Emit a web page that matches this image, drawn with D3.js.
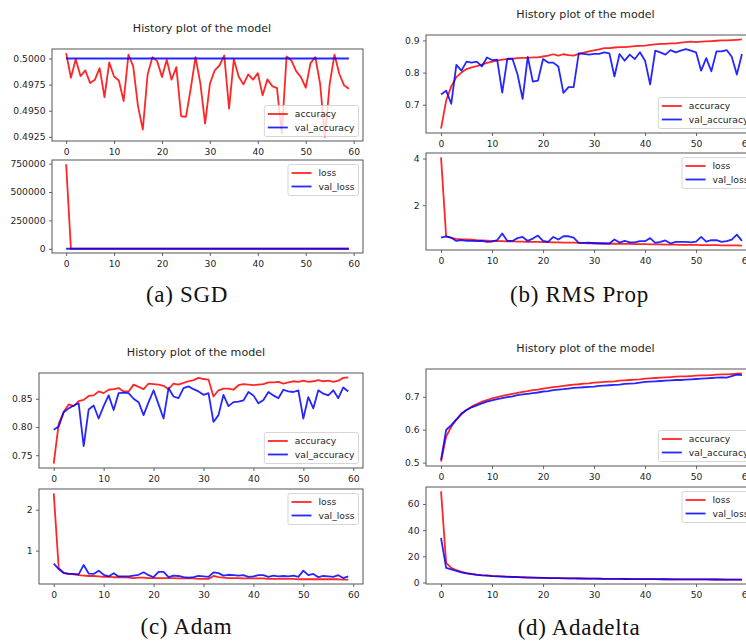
<!DOCTYPE html>
<html>
<head>
<meta charset="utf-8">
<script src="https://cdn.jsdelivr.net/npm/d3@7"></script>
<style>
  html, body { margin: 0; padding: 0; background: #fff; }
  svg { display: block; }
</style>
</head>
<body>
<svg id="chart" width="746" height="644"></svg>
<script>
const WIDTH = 746;
const HEIGHT = 644;
const COLOR_TRAIN = '#ff0000';
const COLOR_VAL = '#0000ff';
const COLOR_TEXT = '#262626';
const COLOR_SPINE = '#555555';
const FONT = "'DejaVu Sans', sans-serif";
const TICK_FONT = 9.2;
const LINE_W = 1.8;

// ---- data ----
const title = 'History plot of the model';
const captions = ['(a) SGD', '(b) RMS Prop', '(c) Adam', '(d) Adadelta'];
const accNames = ['accuracy', 'val_accuracy'];
const lossNames = ['loss', 'val_loss'];
const epochTicks = [0, 10, 20, 30, 40, 50, 60];

const sgdAcc = [
  0.50051, 0.49816, 0.49994, 0.49832, 0.49886, 0.49765, 0.49797, 0.49908, 0.49631, 0.49962,
  0.49828, 0.49790, 0.49593, 0.50038, 0.49924, 0.49542, 0.49320, 0.49847, 0.50013, 0.49975,
  0.49822, 0.49987, 0.49797, 0.49917, 0.49447, 0.49441, 0.49711, 0.50013, 0.49765, 0.49377,
  0.49758, 0.49886, 0.49933, 0.50029, 0.49520, 0.49994, 0.49828, 0.49752, 0.49847, 0.49797,
  0.49860, 0.49647, 0.49800, 0.49736, 0.49717, 0.49282, 0.50019, 0.49981, 0.49879, 0.49822,
  0.49720, 0.49956, 0.50013, 0.49758, 0.49250, 0.49758, 0.50038, 0.49854, 0.49743, 0.49711];
const sgdValAcc = [
  0.5, 0.5, 0.5, 0.5, 0.5, 0.5, 0.5, 0.5, 0.5, 0.5,
  0.5, 0.5, 0.5, 0.5, 0.5, 0.5, 0.5, 0.5, 0.5, 0.5,
  0.5, 0.5, 0.5, 0.5, 0.5, 0.5, 0.5, 0.5, 0.5, 0.5,
  0.5, 0.5, 0.5, 0.5, 0.5, 0.5, 0.5, 0.5, 0.5, 0.5,
  0.5, 0.5, 0.5, 0.5, 0.5, 0.5, 0.5, 0.5, 0.5, 0.5,
  0.5, 0.5, 0.5, 0.5, 0.5, 0.5, 0.5, 0.5, 0.5, 0.5];
const sgdLoss = [
  745000, 0.6935, 0.6932, 0.6932, 0.6932, 0.6932, 0.6932, 0.6932, 0.6932, 0.6932,
  0.6932, 0.6932, 0.6932, 0.6932, 0.6932, 0.6932, 0.6932, 0.6932, 0.6932, 0.6932,
  0.6932, 0.6932, 0.6932, 0.6932, 0.6932, 0.6932, 0.6932, 0.6932, 0.6932, 0.6932,
  0.6932, 0.6932, 0.6932, 0.6932, 0.6932, 0.6932, 0.6932, 0.6932, 0.6932, 0.6932,
  0.6932, 0.6932, 0.6932, 0.6932, 0.6932, 0.6932, 0.6932, 0.6932, 0.6932, 0.6932,
  0.6932, 0.6932, 0.6932, 0.6932, 0.6932, 0.6932, 0.6932, 0.6932, 0.6932, 0.6932];
const sgdValLoss = [
  0.6931, 0.6931, 0.6931, 0.6931, 0.6931, 0.6931, 0.6931, 0.6931, 0.6931, 0.6931,
  0.6931, 0.6931, 0.6931, 0.6931, 0.6931, 0.6931, 0.6931, 0.6931, 0.6931, 0.6931,
  0.6931, 0.6931, 0.6931, 0.6931, 0.6931, 0.6931, 0.6931, 0.6931, 0.6931, 0.6931,
  0.6931, 0.6931, 0.6931, 0.6931, 0.6931, 0.6931, 0.6931, 0.6931, 0.6931, 0.6931,
  0.6931, 0.6931, 0.6931, 0.6931, 0.6931, 0.6931, 0.6931, 0.6931, 0.6931, 0.6931,
  0.6931, 0.6931, 0.6931, 0.6931, 0.6931, 0.6931, 0.6931, 0.6931, 0.6931, 0.6931];

const rmsAcc = [
  0.626, 0.713, 0.757, 0.786, 0.800, 0.811, 0.816, 0.820, 0.825, 0.830,
  0.834, 0.837, 0.840, 0.842, 0.843, 0.845, 0.846, 0.846, 0.847, 0.847,
  0.850, 0.853, 0.857, 0.853, 0.857, 0.854, 0.853, 0.858, 0.862, 0.866,
  0.869, 0.872, 0.876, 0.876, 0.878, 0.879, 0.879, 0.881, 0.882, 0.883,
  0.884, 0.886, 0.888, 0.889, 0.889, 0.891, 0.891, 0.893, 0.895, 0.896,
  0.895, 0.896, 0.897, 0.898, 0.899, 0.900, 0.900, 0.901, 0.902, 0.903];
const rmsValAcc = [
  0.732, 0.744, 0.703, 0.824, 0.806, 0.834, 0.831, 0.834, 0.819, 0.847,
  0.839, 0.840, 0.738, 0.843, 0.843, 0.794, 0.718, 0.849, 0.772, 0.775,
  0.842, 0.831, 0.831, 0.819, 0.737, 0.755, 0.755, 0.860, 0.858, 0.856,
  0.858, 0.858, 0.863, 0.860, 0.788, 0.858, 0.837, 0.856, 0.842, 0.863,
  0.837, 0.763, 0.868, 0.863, 0.856, 0.870, 0.863, 0.868, 0.873, 0.868,
  0.863, 0.806, 0.845, 0.804, 0.866, 0.866, 0.870, 0.849, 0.794, 0.858];
const rmsLoss = [
  4.05, 0.66, 0.60, 0.56, 0.54, 0.54, 0.52, 0.50, 0.49, 0.48,
  0.47, 0.46, 0.46, 0.45, 0.45, 0.44, 0.44, 0.43, 0.43, 0.43,
  0.42, 0.42, 0.41, 0.41, 0.40, 0.40, 0.40, 0.39, 0.38, 0.37,
  0.37, 0.36, 0.36, 0.35, 0.35, 0.34, 0.34, 0.34, 0.33, 0.33,
  0.33, 0.32, 0.32, 0.32, 0.31, 0.31, 0.31, 0.30, 0.30, 0.30,
  0.30, 0.29, 0.29, 0.29, 0.29, 0.28, 0.28, 0.28, 0.28, 0.27];
const rmsValLoss = [
  0.61, 0.67, 0.61, 0.47, 0.50, 0.47, 0.47, 0.46, 0.47, 0.43,
  0.44, 0.50, 0.79, 0.47, 0.47, 0.59, 0.64, 0.47, 0.57, 0.70,
  0.47, 0.43, 0.64, 0.53, 0.67, 0.67, 0.61, 0.39, 0.39, 0.40,
  0.37, 0.37, 0.36, 0.36, 0.53, 0.40, 0.47, 0.41, 0.41, 0.46,
  0.46, 0.59, 0.39, 0.43, 0.49, 0.36, 0.43, 0.43, 0.43, 0.41,
  0.44, 0.64, 0.44, 0.50, 0.50, 0.43, 0.46, 0.53, 0.74, 0.47];

const adamAcc = [
  0.735, 0.806, 0.827, 0.840, 0.837, 0.846, 0.848, 0.855, 0.856, 0.863,
  0.860, 0.866, 0.867, 0.869, 0.863, 0.863, 0.875, 0.871, 0.867, 0.877,
  0.876, 0.875, 0.873, 0.867, 0.877, 0.875, 0.878, 0.881, 0.883, 0.887,
  0.885, 0.884, 0.854, 0.865, 0.868, 0.868, 0.866, 0.874, 0.876, 0.875,
  0.874, 0.875, 0.876, 0.879, 0.879, 0.880, 0.877, 0.879, 0.881, 0.880,
  0.882, 0.880, 0.881, 0.883, 0.881, 0.882, 0.880, 0.882, 0.887, 0.888];
const adamValAcc = [
  0.795, 0.801, 0.826, 0.833, 0.838, 0.842, 0.766, 0.831, 0.838, 0.815,
  0.837, 0.856, 0.830, 0.860, 0.861, 0.860, 0.850, 0.844, 0.821, 0.844,
  0.865, 0.840, 0.815, 0.869, 0.854, 0.851, 0.869, 0.872, 0.867, 0.863,
  0.857, 0.860, 0.809, 0.821, 0.857, 0.837, 0.844, 0.845, 0.847, 0.862,
  0.856, 0.842, 0.848, 0.862, 0.856, 0.851, 0.866, 0.863, 0.862, 0.865,
  0.815, 0.853, 0.833, 0.865, 0.859, 0.856, 0.865, 0.851, 0.870, 0.863];
const adamLoss = [
  2.40, 0.57, 0.46, 0.43, 0.42, 0.40, 0.39, 0.38, 0.38, 0.37,
  0.36, 0.36, 0.35, 0.35, 0.35, 0.34, 0.33, 0.34, 0.34, 0.33,
  0.33, 0.33, 0.33, 0.33, 0.33, 0.32, 0.32, 0.32, 0.32, 0.31,
  0.31, 0.31, 0.38, 0.35, 0.34, 0.33, 0.33, 0.33, 0.32, 0.32,
  0.32, 0.32, 0.32, 0.31, 0.31, 0.31, 0.31, 0.31, 0.31, 0.30,
  0.30, 0.30, 0.30, 0.30, 0.30, 0.30, 0.30, 0.30, 0.29, 0.29];
const adamValLoss = [
  0.68, 0.55, 0.45, 0.43, 0.43, 0.42, 0.65, 0.44, 0.43, 0.51,
  0.41, 0.37, 0.45, 0.37, 0.37, 0.37, 0.39, 0.41, 0.47, 0.40,
  0.35, 0.48, 0.48, 0.35, 0.39, 0.38, 0.35, 0.34, 0.35, 0.38,
  0.37, 0.36, 0.47, 0.45, 0.39, 0.41, 0.40, 0.39, 0.40, 0.36,
  0.37, 0.40, 0.40, 0.36, 0.39, 0.37, 0.38, 0.37, 0.39, 0.36,
  0.51, 0.40, 0.43, 0.35, 0.38, 0.37, 0.36, 0.40, 0.33, 0.37];

const adadeltaAcc = [
  0.503, 0.579, 0.609, 0.630, 0.647, 0.660, 0.670, 0.678, 0.685, 0.690,
  0.695, 0.699, 0.703, 0.706, 0.709, 0.712, 0.715, 0.717, 0.720, 0.722,
  0.725, 0.727, 0.729, 0.731, 0.733, 0.735, 0.737, 0.738, 0.740, 0.741,
  0.743, 0.744, 0.745, 0.746, 0.747, 0.749, 0.750, 0.751, 0.752, 0.753,
  0.755, 0.756, 0.757, 0.758, 0.759, 0.760, 0.761, 0.762, 0.762, 0.763,
  0.764, 0.765, 0.765, 0.766, 0.767, 0.768, 0.768, 0.769, 0.770, 0.771];
const adadeltaValAcc = [
  0.508, 0.599, 0.614, 0.631, 0.649, 0.660, 0.668, 0.674, 0.680, 0.685,
  0.689, 0.693, 0.696, 0.699, 0.701, 0.705, 0.707, 0.709, 0.711, 0.713,
  0.716, 0.717, 0.720, 0.722, 0.723, 0.725, 0.727, 0.728, 0.729, 0.730,
  0.731, 0.733, 0.734, 0.735, 0.736, 0.737, 0.739, 0.740, 0.741, 0.743,
  0.745, 0.746, 0.747, 0.748, 0.749, 0.750, 0.751, 0.751, 0.752, 0.753,
  0.754, 0.755, 0.756, 0.757, 0.758, 0.759, 0.758, 0.763, 0.767, 0.766];
const adadeltaLoss = [
  69.6, 15.0, 11.2, 9.4, 8.1, 7.2, 6.6, 6.1, 5.7, 5.4,
  5.1, 4.9, 4.7, 4.5, 4.3, 4.2, 4.0, 3.9, 3.8, 3.7,
  3.6, 3.5, 3.4, 3.35, 3.3, 3.2, 3.15, 3.1, 3.05, 3.0,
  2.95, 2.9, 2.85, 2.8, 2.78, 2.75, 2.7, 2.68, 2.65, 2.62,
  2.6, 2.57, 2.55, 2.52, 2.5, 2.48, 2.46, 2.44, 2.42, 2.4,
  2.38, 2.36, 2.35, 2.33, 2.31, 2.3, 2.28, 2.27, 2.25, 2.24];
const adadeltaValLoss = [
  34.0, 11.2, 10.0, 8.8, 7.8, 7.0, 6.4, 5.9, 5.5, 5.2,
  4.9, 4.7, 4.5, 4.35, 4.2, 4.05, 3.9, 3.8, 3.7, 3.6,
  3.5, 3.42, 3.35, 3.28, 3.22, 3.15, 3.1, 3.05, 3.0, 2.95,
  2.9, 2.86, 2.82, 2.78, 2.75, 2.72, 2.69, 2.66, 2.63, 2.6,
  2.58, 2.55, 2.53, 2.5, 2.48, 2.46, 2.44, 2.42, 2.4, 2.38,
  2.36, 2.35, 2.33, 2.31, 2.3, 2.28, 2.27, 2.26, 2.25, 2.23];

// y tick values per panel
const sgdAccTicks = [0.4925, 0.4950, 0.4975, 0.5000];
const sgdLossTicks = [0, 250000, 500000, 750000];
const rmsAccTicks = [0.7, 0.8, 0.9];
const rmsLossTicks = [2, 4];
const adamAccTicks = [0.75, 0.80, 0.85];
const adamLossTicks = [1, 2];
const adadeltaAccTicks = [0.5, 0.6, 0.7];
const adadeltaLossTicks = [0, 20, 40, 60];

// ---- layout (pixel frames of each axes box) ----
const layout = [
  { acc: { x0: 52, y0: 49, x1: 363, y1: 141 }, loss: { x0: 52, y0: 160, x1: 363, y1: 253 },
    titleX: 202, captionX: 187, captionY: 301.5 },
  { acc: { x0: 426, y0: 35, x1: 757, y1: 133 }, loss: { x0: 426, y0: 153, x1: 757, y1: 250 },
    titleX: 585.5, captionX: 579.5, captionY: 301.5 },
  { acc: { x0: 39, y0: 373, x1: 363, y1: 468 }, loss: { x0: 39, y0: 489, x1: 363, y1: 584 },
    titleX: 196, captionX: 186.5, captionY: 634 },
  { acc: { x0: 426, y0: 369, x1: 757, y1: 466 }, loss: { x0: 426, y0: 487, x1: 757, y1: 584 },
    titleX: 585.5, captionX: 579, captionY: 635 },
];

const subfigures = [
  { acc: [sgdAcc, sgdValAcc], loss: [sgdLoss, sgdValLoss],
    accTicks: sgdAccTicks, lossTicks: sgdLossTicks, accFmt: '.4f', lossFmt: 'd' },
  { acc: [rmsAcc, rmsValAcc], loss: [rmsLoss, rmsValLoss],
    accTicks: rmsAccTicks, lossTicks: rmsLossTicks, accFmt: '.1f', lossFmt: 'd' },
  { acc: [adamAcc, adamValAcc], loss: [adamLoss, adamValLoss],
    accTicks: adamAccTicks, lossTicks: adamLossTicks, accFmt: '.2f', lossFmt: 'd' },
  { acc: [adadeltaAcc, adadeltaValAcc], loss: [adadeltaLoss, adadeltaValLoss],
    accTicks: adadeltaAccTicks, lossTicks: adadeltaLossTicks, accFmt: '.1f', lossFmt: 'd' },
];

const svg = d3.select('#chart');
svg.append('rect').attr('width', WIDTH).attr('height', HEIGHT).attr('fill', '#fff');

function styleAxis(sel) {
  sel.select('.domain').remove();
  sel.selectAll('.tick line').attr('stroke', COLOR_SPINE).attr('stroke-width', 0.9);
  sel.selectAll('.tick text')
    .attr('fill', COLOR_TEXT)
    .style('font-family', FONT)
    .style('font-size', TICK_FONT + 'px');
}

function drawLegend(g, frame, names, where) {
  const lg = g.append('g');
  const rowGap = 13.5;
  const widths = names.map((name, k) => {
    lg.append('line')
      .attr('x1', 0).attr('x2', 20)
      .attr('y1', k * rowGap).attr('y2', k * rowGap)
      .attr('stroke', k ? COLOR_VAL : COLOR_TRAIN)
      .attr('stroke-width', LINE_W)
      .attr('stroke-opacity', 0.85);
    const t = lg.append('text')
      .attr('x', 27).attr('y', k * rowGap).attr('dy', '0.35em')
      .attr('fill', COLOR_TEXT)
      .style('font-family', FONT)
      .style('font-size', TICK_FONT + 'px')
      .text(name);
    return t.node().getComputedTextLength();
  });
  const boxW = 3.5 + 27 + d3.max(widths) + 4;
  const boxH = 31;
  const bx = frame.x1 - 4.5 - boxW;
  const by = where === 'lower' ? frame.y1 - 4.5 - boxH : frame.y0 + 4.5;
  lg.insert('rect', ':first-child')
    .attr('x', -3.5).attr('y', -8.5)
    .attr('width', boxW).attr('height', boxH)
    .attr('rx', 2)
    .attr('fill', '#fff').attr('fill-opacity', 0.8)
    .attr('stroke', '#cccccc').attr('stroke-width', 0.8);
  lg.attr('transform', `translate(${bx + 3.5},${by + 8.5})`);
}

function drawPanel(frame, pair, names, ticks, fmt, legendAt) {
  const [lo, hi] = d3.extent(pair.flat());
  const pad = (hi - lo) * 0.05;
  const x = d3.scaleLinear().domain([-2.95, 61.95]).range([frame.x0, frame.x1]);
  const y = d3.scaleLinear().domain([lo - pad, hi + pad]).range([frame.y1, frame.y0]);
  const g = svg.append('g');

  const line = d3.line().x((d, i) => x(i)).y(d => y(d));
  pair.forEach((s, k) => {
    g.append('path')
      .datum(s)
      .attr('d', line)
      .attr('fill', 'none')
      .attr('stroke', k ? COLOR_VAL : COLOR_TRAIN)
      .attr('stroke-width', LINE_W)
      .attr('stroke-opacity', 0.85)
      .attr('stroke-linejoin', 'round');
  });

  g.append('g')
    .attr('transform', `translate(0,${frame.y1})`)
    .call(d3.axisBottom(x).tickValues(epochTicks).tickFormat(d3.format('d'))
      .tickSize(3).tickPadding(4.5))
    .call(styleAxis);

  g.append('g')
    .attr('transform', `translate(${frame.x0},0)`)
    .call(d3.axisLeft(y).tickValues(ticks).tickFormat(d3.format(fmt))
      .tickSize(3).tickPadding(3.5))
    .call(styleAxis);

  g.append('rect')
    .attr('x', frame.x0).attr('y', frame.y0)
    .attr('width', frame.x1 - frame.x0).attr('height', frame.y1 - frame.y0)
    .attr('fill', 'none')
    .attr('stroke', COLOR_SPINE)
    .attr('stroke-width', 1);

  drawLegend(g, frame, names, legendAt);
}

subfigures.forEach((sf, i) => {
  const L = layout[i];
  svg.append('text')
    .attr('x', L.titleX).attr('y', L.acc.y0 - 17.5)
    .attr('text-anchor', 'middle')
    .attr('fill', COLOR_TEXT)
    .style('font-family', FONT)
    .style('font-size', '11.1px')
    .text(title);

  drawPanel(L.acc, sf.acc, accNames, sf.accTicks, sf.accFmt, 'lower');
  drawPanel(L.loss, sf.loss, lossNames, sf.lossTicks, sf.lossFmt, 'upper');

  svg.append('text')
    .attr('x', L.captionX).attr('y', L.captionY)
    .attr('text-anchor', 'middle')
    .attr('fill', '#111')
    .style('font-family', "'Liberation Serif', serif")
    .style('font-size', '23px')
    .style('letter-spacing', '0.7px')
    .text(captions[i]);
});
</script>
</body>
</html>
